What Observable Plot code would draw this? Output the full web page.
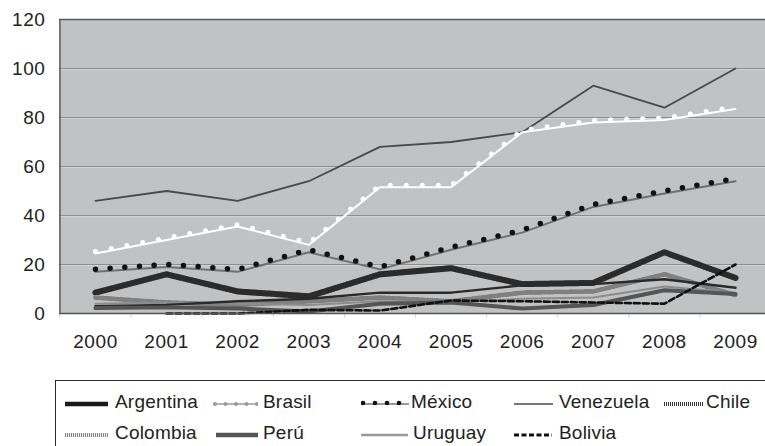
<!DOCTYPE html>
<html>
<head>
<meta charset="utf-8">
<script src="https://cdn.jsdelivr.net/npm/d3@7"></script>
<script src="https://cdn.jsdelivr.net/npm/@observablehq/plot@0.6"></script>
<style>
  html, body { margin: 0; padding: 0; background: #fff; overflow: hidden; width: 765px; height: 446px; }
  body { font-family: "Liberation Sans", Arial, sans-serif; color: #222; position: relative; }
  #legend { position: absolute; left: 55px; top: 380px; width: 760px; height: 80px; border: 1.5px solid #2a2a2a; box-sizing: border-box; }
  .item { position: absolute; font-size: 19px; line-height: 20px; letter-spacing: 0.2px; white-space: nowrap; }
  .sym { position: absolute; }
</style>
</head>
<body>
<div id="chart"></div>
<div id="legend"></div>
<script>
const years = [2000, 2001, 2002, 2003, 2004, 2005, 2006, 2007, 2008, 2009];
const yTicks = [0, 20, 40, 60, 80, 100, 120];

const venezuela = [46, 50, 46, 54, 68, 70, 74, 93, 84, 100];
const brasil    = [24.5, 30, 35.5, 28, 51.5, 51.5, 74, 78, 79, 83.5];
const mexico    = [17, 19, 17, 25, 18, 26, 33, 43.5, 49, 54];
const chile     = [8.5, 16, 9, 7, 16, 18.5, 12, 12.5, 25, 14.5];
const colombia  = [6.5, 4.5, 3.5, 5, 6.5, 5, 8.5, 9, 16, 7.5];
const argentina = [3, 3.5, 5, 6, 8.5, 8.5, 11.5, 12, 14, 10.5];
const uruguay   = [4, 4.5, 4, 3.5, 5, 4.5, 6, 6.5, 11, 8.5];
const peru      = [2.2, 2.5, 2, 0.8, 4, 4.5, 2, 3.5, 9.5, 8];
const bolivia   = [null, 0, 0, 1.5, 1.2, 5.3, 5, 4.5, 4, 20];

const countries = ["Argentina", "Brasil", "México", "Venezuela", "Chile", "Colombia", "Perú", "Uruguay", "Bolivia"];

function rows(vals) {
  return years.map((year, i) => ({year, v: vals[i]})).filter(d => d.v != null);
}
const boundaries = years.map(y => y - 0.5).concat([years[years.length - 1] + 0.5]);

const L = (vals, opts) => Plot.line(rows(vals), {x: "year", y: "v", strokeLinejoin: "round", ...opts});

const chart = Plot.plot({
  width: 765,
  height: 372,
  marginLeft: 59,
  marginTop: 19,
  marginRight: 0,
  marginBottom: 59,
  style: {fontFamily: '"Liberation Sans", Arial, sans-serif', fontSize: "19px", color: "#222", background: "white", overflow: "hidden"},
  x: {type: "linear", domain: [boundaries[0], boundaries[boundaries.length - 1]], range: [59.4, 770.6], axis: null, label: null},
  y: {domain: [0, 120], axis: null, label: null},
  marks: [
    Plot.frame({fill: "#c1c2c4", stroke: "none"}),
    Plot.ruleY(yTicks.slice(1, -1), {stroke: "#8e8e8e", strokeWidth: 1}),
    Plot.ruleY(yTicks.slice(1, -1), {stroke: "#d2d2d2", strokeWidth: 1, dy: 1}),
    Plot.ruleX(boundaries, {y1: 0, y2: 0, insetBottom: -5, stroke: "#d8d8d8"}),
    // Venezuela
    L(venezuela, {stroke: "#4a4a4a", strokeWidth: 1.8}),
    // Brasil
    L(brasil, {stroke: "#ffffff", strokeWidth: 2}),
    L(brasil, {stroke: "#ffffff", strokeWidth: 5, strokeDasharray: "0 16", strokeLinecap: "round", dy: -2}),
    // México
    L(mexico, {stroke: "#707070", strokeWidth: 2}),
    L(mexico, {stroke: "#111", strokeWidth: 5.5, strokeDasharray: "0 14.7", strokeLinecap: "round", dy: -2.5}),
    // Chile
    L(chile, {stroke: "#8f8f8f", strokeWidth: 6}),
    L(chile, {stroke: "#2b2b2b", strokeWidth: 6, strokeDasharray: "1 2", strokeLinejoin: "bevel"}),
    // Colombia
    L(colombia, {stroke: "#fafafa", strokeWidth: 5}),
    L(colombia, {stroke: "#808080", strokeWidth: 5, strokeDasharray: "0.8 1.7", strokeLinejoin: "bevel"}),
    // Uruguay
    L(uruguay, {stroke: "#8c8c8c", strokeWidth: 2}),
    // Argentina
    L(argentina, {stroke: "#2a2a2a", strokeWidth: 2.4}),
    // Perú
    L(peru, {stroke: "#555", strokeWidth: 4}),
    // Bolivia
    L(bolivia, {stroke: "#111", strokeWidth: 2.6, strokeDasharray: "6 3"}),
    // borders
    Plot.ruleY([yTicks[yTicks.length - 1]], {stroke: "#5a5a5a", strokeWidth: 1.5}),
    Plot.ruleY([0], {stroke: "#555", strokeWidth: 1.5}),
    Plot.ruleX([boundaries[0]], {stroke: "#5a5a5a", strokeWidth: 1.5}),
    Plot.axisY(yTicks, {tickSize: 0, tickPadding: 14, fontSize: 19, fill: "#222", label: null}),
    Plot.axisX(years, {tickSize: 0, tickPadding: 21, fontSize: 19, fill: "#222", label: null, tickFormat: d => String(d)})
  ]
});
chart.style.letterSpacing = "0.6px";
document.getElementById("chart").appendChild(chart);

// legend (HTML + inline svg symbols), positions relative to legend box (left 55, top 380)
const legendItems = [
  {name: countries[0], sx: 64, sw: 43, tx: 114, row: 0, kind: "argentina"},
  {name: countries[1], sx: 212, sw: 45, tx: 262, row: 0, kind: "brasil"},
  {name: countries[2], sx: 360, sw: 48, tx: 410, row: 0, kind: "mexico"},
  {name: countries[3], sx: 513, sw: 39, tx: 558, row: 0, kind: "venezuela"},
  {name: countries[4], sx: 663, sw: 39, tx: 705, row: 0, kind: "chile"},
  {name: countries[5], sx: 64, sw: 43, tx: 114, row: 1, kind: "colombia"},
  {name: countries[6], sx: 215, sw: 42, tx: 262, row: 1, kind: "peru"},
  {name: countries[7], sx: 360, sw: 47, tx: 412, row: 1, kind: "uruguay"},
  {name: countries[8], sx: 513, sw: 38, tx: 558, row: 1, kind: "bolivia"}
];
const rowY = [401, 432];
const legend = document.getElementById("legend");
function symSvg(kind, w) {
  const y = 6;
  const ln = (attrs) => `<line x1="0" y1="${y}" x2="${w}" y2="${y}" ${attrs}/>`;
  switch (kind) {
    case "argentina": return ln('stroke="#1a1a1a" stroke-width="4.5"');
    case "brasil": {
      let s = ln('stroke="#999" stroke-width="1.5"');
      for (let x = 2; x <= w; x += 10.5) s += `<circle cx="${x}" cy="${y}" r="2" fill="#999"/>`;
      return s;
    }
    case "mexico": {
      let s = ln('stroke="#777" stroke-width="1.5"');
      for (let x = 2; x <= w; x += 12) s += `<circle cx="${x}" cy="${y - 1}" r="2.3" fill="#111"/>`;
      return s;
    }
    case "venezuela": return ln('stroke="#4a4a4a" stroke-width="1.5"');
    case "chile": return ln('stroke="#333" stroke-width="4" stroke-dasharray="1 1"');
    case "colombia": return ln('stroke="#eee" stroke-width="4"') + ln('stroke="#888" stroke-width="4" stroke-dasharray="1 1"');
    case "peru": return ln('stroke="#555" stroke-width="4.5"');
    case "uruguay": return ln('stroke="#999" stroke-width="2.5"');
    case "bolivia": return ln('stroke="#111" stroke-width="3" stroke-dasharray="5 2.5"');
  }
}
for (const it of legendItems) {
  const cy = rowY[it.row] - 380;
  const sym = document.createElement("div");
  sym.className = "sym";
  sym.style.left = (it.sx - 55) + "px";
  sym.style.top = (cy - 6) + "px";
  sym.innerHTML = `<svg width="${it.sw}" height="12">${symSvg(it.kind, it.sw)}</svg>`;
  legend.appendChild(sym);
  const t = document.createElement("div");
  t.className = "item";
  t.style.left = (it.tx - 55) + "px";
  t.style.top = (cy - 10) + "px";
  t.textContent = it.name;
  legend.appendChild(t);
}
</script>
</body>
</html>
